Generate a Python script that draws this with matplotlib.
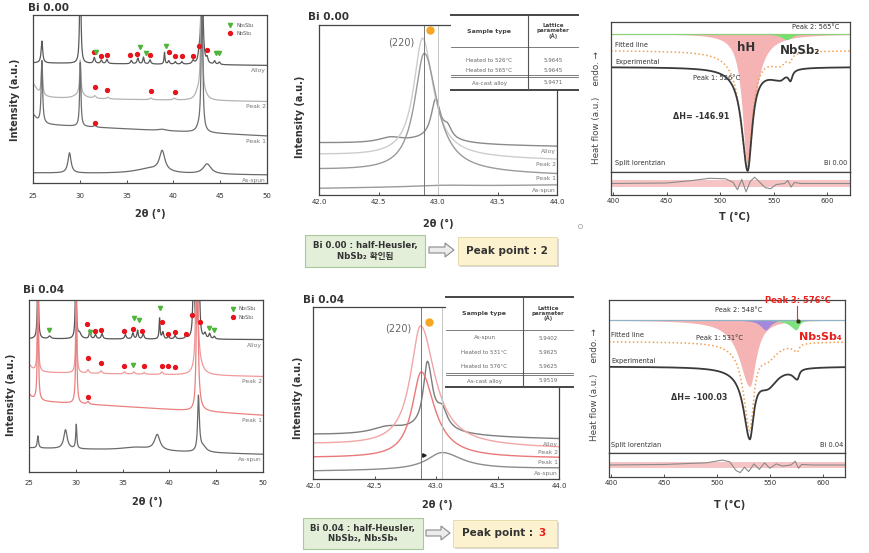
import numpy as np
import matplotlib.pyplot as plt
from matplotlib.patches import Rectangle, FancyBboxPatch, FancyArrow

plt.rcParams['font.family'] = ['DejaVu Sans', 'Noto Sans CJK KR']

W, H = 870, 553

# ---------------- data ----------------
xrd_labels = ['Alloy', 'Peak 2', 'Peak 1', 'As-spun']

# wide XRD, Bi 0.00 : (level at 25 deg, slope per deg), peaks (pos, height, hwhm[, hwhm right])
xrd00_base = [(71.5, -0.06), (50.5, -0.08), (35.0, -0.28), (6.0, -0.05)]
xrd00_peaks = [
    [(25.95, 13, 0.1), (30.05, 70, 0.07), (31.55, 3.5, 0.1), (32.3, 2, 0.1), (32.9, 2.5, 0.1),
     (35.5, 2, 0.1), (36.2, 3.5, 0.1), (36.8, 4, 0.08), (37.5, 2.5, 0.1), (39.05, 7, 0.06),
     (39.5, 2, 0.1), (40.2, 1.5, 0.1), (40.9, 1.5, 0.1), (42.1, 2, 0.12), (42.75, 5, 0.1),
     (43.05, 90, 0.09), (43.6, 3, 0.1), (44.4, 2, 0.1), (44.9, 1.5, 0.1)],
    [(24.9, 9, 0.6), (25.95, 20, 0.08), (30.0, 3, 0.6), (30.05, 20, 0.08), (31.6, 1.5, 0.15),
     (33.0, 1, 0.15), (37.6, 1, 0.15), (40.1, 1, 0.15), (42.6, 4, 0.3), (43.0, 80, 0.09),
     (43.3, 3, 0.4)],
    [(24.9, 6, 0.5), (25.95, 37, 0.09), (30.05, 38, 0.08), (31.6, 1, 0.15), (38.8, 0.8, 0.5),
     (42.7, 2, 0.3), (43.05, 80, 0.1)],
    [(28.9, 12, 0.2), (37.5, 3, 2.0), (38.8, 12, 0.35), (43.6, 6, 0.5)],
]
xrd00_red = {'x': [31.5, 32.3, 32.9, 35.4, 36.1, 37.5, 39.5, 40.2, 40.9, 42.1, 42.75, 43.6,
                   31.6, 32.9, 37.6, 40.2, 31.6],
             'y': [78, 75.5, 76, 76, 76.7, 76, 78, 75.5, 75.5, 75.5, 81.5, 79,
                   57, 55.3, 54.7, 54.3, 35.8]}
xrd00_green = {'x': [31.7, 36.4, 37.1, 39.2, 44.5, 44.9],
               'y': [78, 80.7, 77.5, 81.5, 77.5, 77.5]}

# wide XRD, Bi 0.04
xrd04_base = [(77.5, -0.02), (58.0, -0.1), (41.5, -0.34), (14.0, -0.15)]
xrd04_peaks = [
    [(25.95, 40, 0.07), (27.2, 1.5, 0.15), (30.0, 40, 0.07), (30.4, 3, 0.2), (31.5, 5, 0.08),
     (32.1, 2.5, 0.1), (32.8, 3, 0.1), (35.3, 2.5, 0.1), (36.1, 3.5, 0.1), (36.6, 5, 0.08),
     (37.2, 3, 0.1), (38.95, 12, 0.06), (39.3, 4, 0.1), (39.9, 1.5, 0.1), (40.6, 2, 0.1),
     (41.8, 1.5, 0.12), (42.6, 60, 0.08), (43.15, 60, 0.08), (43.8, 3, 0.12), (44.3, 3, 0.1),
     (44.8, 1.5, 0.1)],
    [(24.9, 5, 0.4), (25.95, 45, 0.07), (30.05, 45, 0.07), (31.3, 2, 0.12), (32.7, 1.5, 0.12),
     (35.2, 1.2, 0.12), (36.2, 1.2, 0.12), (37.3, 1, 0.12), (39.2, 1.5, 0.12),
     (42.9, 80, 0.1, 0.14), (43.1, 5, 0.5)],
    [(24.9, 4, 0.4), (25.95, 60, 0.07), (30.05, 60, 0.07), (31.3, 1.5, 0.12),
     (42.95, 80, 0.1, 0.14)],
    [(25.95, 7, 0.08), (28.9, 11, 0.22), (30.05, 14, 0.07), (36.5, 2, 2.0), (38.7, 9, 0.35),
     (43.1, 32, 0.1, 0.12), (43.6, 3, 0.4)],
]
xrd04_red = {'x': [31.2, 32.1, 32.7, 35.2, 36.1, 37.1, 39.2, 39.9, 40.6, 41.8, 42.4, 43.3,
                   31.25, 32.7, 35.2, 37.3, 39.2, 39.9, 40.6, 31.3],
             'y': [85.8, 81.9, 82.5, 81.9, 83.1, 82.1, 87.4, 80.2, 81.2, 80, 91.3, 87,
                   66, 63.1, 61.7, 61.6, 61.7, 61.6, 61.2, 43.7]}
xrd04_green = {'x': [27.1, 31.5, 36.2, 36.8, 39.0, 44.2, 44.8, 36.1],
               'y': [82.5, 81.6, 89.3, 88.3, 95.1, 83.5, 82.5, 62.1]}

# (220) zoom, Bi 0.00 : level at 42.0, slope per deg
z00_base = [(30.5, -1.0), (23.5, -1.5), (14.7, -1.5), (3.9, 1.0)]
z00_peaks = [
    [(42.6, 3, 0.12), (42.95, 3, 0.25), (42.98, 23, 0.045, 0.05), (43.08, 6, 0.04)],
    [(42.87, 70, 0.09, 0.11)],
    [(42.885, 70, 0.1, 0.13)],
    [(43.05, 0.8, 0.3)],
]
z00_lines = [42.88, 43.0]
z00_table = [('Heated to 526°C', '5.9645'), ('Heated to 565°C', '5.9645'),
             ('As-cast alloy', '5.9471')]

# (220) zoom, Bi 0.04
z04_base = [(25.5, -1.2), (20.1, -1.2), (12.4, -0.2), (4.6, 0.75)]
z04_peaks = [
    [(42.6, 3.5, 0.15), (42.9, 4, 0.3), (42.93, 38, 0.04, 0.05), (43.05, 10, 0.05)],
    [(42.875, 70, 0.1, 0.14)],
    [(42.88, 50, 0.09, 0.13)],
    [(43.05, 10, 0.15, 0.2)],
]
z04_lines = [42.88, 43.05]
z04_table = [('As-spun', '5.9402'), ('Heated to 531°C', '5.9625'),
             ('Heated to 576°C', '5.9625'), ('As-cast alloy', '5.9519')]

# DSC, split lorentzian peaks (T, depth, hwhm left, hwhm right)
dsc00_exp = (70.0, [(525.5, 68, 6.5, 5), (556, 7, 14, 6), (565.5, 6.5, 2.5, 2)])
dsc00_fit = (81.0, [(525, 76, 7.5, 5.8), (556, 8, 14, 6), (565, 4, 2.5, 2)])
dsc00_comp_level = 92.2
dsc00_comp = [(525, 87, 5.5, 8), (562, 4, 6, 5)]
dsc00_res_x = [398, 450, 475, 490, 505, 512, 516, 520, 524, 528, 532, 537, 542, 547, 552,
               560, 563, 566, 569, 575, 621]
dsc00_res_y = [0.0, 0.05, 0.3, 0.5, 0.45, 0.1, -0.6, 0.4, -0.8, 0.2, 0.6, 0.1, -0.4, -0.5,
               -0.1, 0.0, 0.3, -0.35, 0.1, 0.0, 0.0]

dsc04_exp = (56.5, [(531, 43.5, 7, 4.5), (548, 12, 12, 11), (576, 6.5, 5, 2)])
dsc04_fit = (72.8, [(531, 55, 7, 4.5), (548, 10, 12, 11), (576, 5, 5, 2)])
dsc04_comp_level = 87.0
dsc04_comp = [(531, 43.5, 12, 7), (546, 6.5, 6, 5), (575, 6.5, 7, 3)]
dsc04_res_x = [397, 450, 490, 505, 512, 518, 522, 526, 530, 535, 540, 545, 550, 556, 562,
               570, 574, 577, 580, 590, 621]
dsc04_res_y = [0.0, 0.05, 0.2, 0.45, 0.3, -0.5, -0.7, -0.2, -0.6, 0.1, -0.4, 0.2, -0.3, 0.1,
               -0.1, 0.0, 0.35, -0.3, 0.05, 0.0, 0.0]


# ---------------- helpers ----------------
def px_axes(fig, x0, y0, x1, y1):
    return fig.add_axes([x0 / W, 1 - y1 / H, (x1 - x0) / W, (y1 - y0) / H])


def lorentz(x, peaks):
    y = np.zeros_like(x)
    for p in peaks:
        c, h, wl = p[0], p[1], p[2]
        wr = p[3] if len(p) > 3 else wl
        w = np.where(x < c, wl, wr)
        y = y + h * w**2 / ((x - c)**2 + w**2)
    return y


def style_frame(ax, pad):
    for s in ax.spines.values():
        s.set_color('#444444')
        s.set_linewidth(0.9)
    ax.set_yticks([])
    ax.tick_params(axis='x', direction='in', length=2, width=0.6, labelsize=5,
                   pad=pad, colors='#333333')


def xrd_panel(fig, box, xlim, bases, peaks, colors, ticks, ticklabels, pad, lw=0.9):
    ax = px_axes(fig, *box)
    x = np.linspace(xlim[0], xlim[1], 5000)
    for (lvl, slope), pk, c, lab in zip(bases, peaks, colors, xrd_labels):
        y = lvl + slope * (x - xlim[0]) + lorentz(x, pk)
        ax.plot(x, y, color=c, lw=lw)
        ax.text(xlim[1] - 0.004 * (xlim[1] - xlim[0]), y[-1] - 3.2, lab, ha='right',
                va='center', fontsize=4.3, color='#777777')
    ax.set_xlim(xlim)
    ax.set_ylim(0, 100)
    ax.set_xticks(ticks)
    ax.set_xticklabels(ticklabels)
    style_frame(ax, pad)
    return ax


def dsc_panel(fig, box_main, box_res, exp, fit, comp_level, comp, comp_colors,
              res_x, res_y, line_color):
    xlim = (398, 621)
    x = np.linspace(xlim[0], xlim[1], 3000)
    ax = px_axes(fig, *box_main)
    ax.axhline(comp_level, color=line_color, lw=0.9)
    for pk, c in zip(comp, comp_colors):
        y = comp_level - lorentz(x, [pk])
        ax.fill_between(x, y, comp_level, color=c, lw=0)
    ax.plot(x, fit[0] - lorentz(x, fit[1]), color='#f0a050', lw=1.1, ls=(0, (1, 1.6)))
    ax.plot(x, exp[0] - lorentz(x, exp[1]), color='#3a3a3a', lw=1.3)
    ax.set_xlim(xlim)
    ax.set_ylim(0, 100)
    ax.set_xticks([])
    style_frame(ax, 2)

    rx = px_axes(fig, *box_res)
    rx.axhspan(-0.3, 0.3, color='#f6c4c4', lw=0)
    rx.plot(res_x, res_y, color='#8a8a8a', lw=0.8)
    rx.set_xlim(xlim)
    rx.set_ylim(-1.1, 1.1)
    rx.set_xticks([400, 450, 500, 550, 600])
    style_frame(rx, 2.5)
    return ax, rx


def draw_table(ov, x0, y0, x1, y1, xs, yh, rows, row_y, y_double):
    ov.add_patch(Rectangle((x0, y0), x1 - x0, y1 - y0, fc='white', ec='none', zorder=1))
    ov.plot([x0, x1], [y0, y0], color='#444444', lw=1.4, zorder=2)
    ov.plot([x0, x1], [y1, y1], color='#444444', lw=1.4, zorder=2)
    ov.plot([x0, x1], [yh, yh], color='#666666', lw=0.6, zorder=2)
    ov.plot([x0, x1], [y_double, y_double], color='#666666', lw=0.6, zorder=2)
    ov.plot([x0, x1], [y_double + 2, y_double + 2], color='#666666', lw=0.6, zorder=2)
    ov.plot([xs, xs], [y0, y1], color='#555555', lw=0.8, zorder=2)
    ov.text((x0 + xs) / 2, (y0 + yh) / 2, 'Sample type', ha='center', va='center',
            fontsize=4.5, fontweight='bold', color='#444444', zorder=3)
    ov.text((xs + x1) / 2, (y0 + yh) / 2, 'Lattice\nparameter\n(Å)', ha='center',
            va='center', fontsize=4, fontweight='bold', color='#444444', linespacing=1.0,
            zorder=3)
    for (name, val), yy in zip(rows, row_y):
        ov.text((x0 + xs) / 2, yy, name, ha='center', va='center', fontsize=4,
                color='#666666', zorder=3)
        ov.text((xs + x1) / 2, yy, val, ha='center', va='center', fontsize=4,
                color='#666666', zorder=3)


# ---------------- figure ----------------
fig = plt.figure(figsize=(W / 100, H / 100), dpi=100)

wide_ticks = [25, 30, 35, 40, 45, 50]
zoom_ticks = [42.0, 42.5, 43.0, 43.5, 44.0]
zoom_labels = ['42.0', '42.5', '43.0', '43.5', '44.0']

# wide XRD panels
ax1 = xrd_panel(fig, (33, 15, 267, 183), (25, 50), xrd00_base, xrd00_peaks,
                ['#5a5a5a', '#b3b3b3', '#6e6e6e', '#6a6a6a'], wide_ticks, wide_ticks, 7)
ax4 = xrd_panel(fig, (29, 300, 263, 472), (25, 50), xrd04_base, xrd04_peaks,
                ['#555555', '#f09a9a', '#ea8080', '#6a6a6a'], wide_ticks, wide_ticks, 6)
for ax, red, green in [(ax1, xrd00_red, xrd00_green), (ax4, xrd04_red, xrd04_green)]:
    ax.plot(red['x'], red['y'], 'o', color='#e8141c', ms=2.8, mec='#e8141c')
    ax.plot(green['x'], green['y'], 'v', color='#4fb43a', ms=3)
ax1.plot([46.1], [94], 'v', color='#4fb43a', ms=3)
ax1.plot([46.1], [89], 'o', color='#e8141c', ms=2.8)
ax1.text(46.7, 94, 'Nb₅Sb₄', fontsize=3.6, va='center', color='#555555')
ax1.text(46.7, 89, 'NbSb₂', fontsize=3.6, va='center', color='#555555')
ax4.plot([46.8], [95], 'v', color='#4fb43a', ms=3)
ax4.plot([46.8], [90], 'o', color='#e8141c', ms=2.8)
ax4.text(47.4, 95, 'Nb₅Sb₄', fontsize=3.6, va='center', color='#555555')
ax4.text(47.4, 90, 'NbSb₂', fontsize=3.6, va='center', color='#555555')

# (220) zoom panels
ax2 = xrd_panel(fig, (319, 25, 557, 195), (42.0, 44.0), z00_base, z00_peaks,
                ['#8a8a8a', '#cdcdcd', '#9a9a9a', '#9a9a9a'], zoom_ticks, zoom_labels, 3, lw=1.0)
ax5 = xrd_panel(fig, (313, 307, 559, 479), (42.0, 44.0), z04_base, z04_peaks,
                ['#7d7d7d', '#f2a6a6', '#ea7878', '#8c8c8c'], zoom_ticks, zoom_labels, 3, lw=1.0)
for ax, lines, lab_y, dot_xy in [(ax2, z00_lines, 90, (42.93, 97)), (ax5, z04_lines, 87.4, (42.94, 91.3))]:
    ax.axvline(lines[0], color='#777777', lw=0.7)
    ax.axvline(lines[1], color='#c4c4c4', lw=0.7)
    ax.text(42.69, lab_y, '(220)', ha='center', va='center', fontsize=7, color='#666666')
    ax.plot([dot_xy[0]], [dot_xy[1]], 'o', color='#f5a623', ms=5, clip_on=False)
ax5.plot([42.9], [14], marker='>', color='#222222', ms=2.5)

# DSC panels
d1, r1 = dsc_panel(fig, (611, 22, 850, 172), (611, 172, 850, 195), dsc00_exp, dsc00_fit,
                   dsc00_comp_level, dsc00_comp, ['#f5b3b3', '#6fe36a'],
                   dsc00_res_x, dsc00_res_y, '#8fd07a')
d2, r2 = dsc_panel(fig, (609, 300, 845, 453), (609, 453, 845, 477), dsc04_exp, dsc04_fit,
                   dsc04_comp_level, dsc04_comp, ['#f5b3b3', '#a488dc', '#7ee07e'],
                   dsc04_res_x, dsc04_res_y, '#8fb3c9')

tiny = dict(fontsize=4.8, color='#333333')
d1.text(589, 96.7, 'Peak 2: 565°C', ha='center', va='center', **tiny)
d1.text(524, 83, 'hH', ha='center', va='center', fontsize=8.5, fontweight='bold', color='#333333')
d1.text(574, 81, 'NbSb₂', ha='center', va='center', fontsize=8.5, fontweight='bold', color='#333333')
d1.text(402, 84.4, 'Fitted line', va='center', **tiny)
d1.text(402, 73.3, 'Experimental', va='center', **tiny)
d1.text(497, 62.9, 'Peak 1: 526°C', ha='center', va='center', **tiny)
d1.text(482, 36.7, 'ΔH= -146.91', ha='center', va='center', fontsize=5.8,
        fontweight='bold', color='#333333')
d1.text(402, 6, 'Split lorentzian', va='center', **tiny)
d1.text(619, 6, 'Bi 0.00', ha='right', va='center', **tiny)

d2.plot([576, 576], [96, 87], color='#e03030', lw=0.8)
d2.plot([577], [86], 'o', color='#333300', ms=2)
d2.text(577, 99.5, 'Peak 3: 576°C', ha='center', va='center', fontsize=6,
        fontweight='bold', color='#e8201c', clip_on=False)
d2.text(598, 76, 'Nb₅Sb₄', ha='center', va='center', fontsize=8,
        fontweight='bold', color='#e8201c')
d2.text(521, 93.5, 'Peak 2: 548°C', ha='center', va='center', **tiny)
d2.text(502, 75, 'Peak 1: 531°C', ha='center', va='center', **tiny)
d2.text(400, 77, 'Fitted line', va='center', **tiny)
d2.text(400, 60, 'Experimental', va='center', **tiny)
d2.text(483, 36, 'ΔH= -100.03', ha='center', va='center', fontsize=5.8,
        fontweight='bold', color='#333333')
d2.text(400, 5, 'Split lorentzian', va='center', **tiny)
d2.text(619, 5, 'Bi 0.04', ha='right', va='center', **tiny)

# ---------------- overlay in pixel coordinates ----------------
ov = fig.add_axes([0, 0, 1, 1], zorder=10)
ov.set_xlim(0, W)
ov.set_ylim(H, 0)
ov.axis('off')

bold = dict(fontweight='bold', color='#333333')
ov.text(28, 8, 'Bi 0.00', fontsize=7.5, va='center', **bold)
ov.text(308, 17, 'Bi 0.00', fontsize=7.5, va='center', **bold)
ov.text(23, 290, 'Bi 0.04', fontsize=7.5, va='center', **bold)
ov.text(303, 300, 'Bi 0.04', fontsize=7.5, va='center', **bold)

for x, y in [(15, 100), (11, 395), (300, 117), (298, 398)]:
    ov.text(x, y, 'Intensity (a.u.)', rotation=90, ha='center', va='center', fontsize=7, **bold)
for x, y in [(597, 108), (595, 385)]:
    ov.text(x, y, 'Heat flow (a.u.)    endo. →', rotation=90, ha='center', va='center',
            fontsize=6.3, color='#444444')

for x, y, s in [(150, 214, '2θ (°)'), (438, 224, '2θ (°)'), (147, 502, '2θ (°)'),
                (437, 505, '2θ (°)'), (735, 217, 'T (°C)'), (730, 505, 'T (°C)')]:
    ov.text(x, y, s, ha='center', va='center', fontsize=7, **bold)

draw_table(ov, 451, 15, 578, 90, 528, 47, z00_table, [61, 70, 83], 75)
draw_table(ov, 446, 297, 573, 387, 523, 330, z04_table, [338, 352, 366, 381], 372.5)

# summary boxes
for x0, y0, x1, y1, txt in [(305, 235, 425, 267, 'Bi 0.00 : half-Heusler,\nNbSb₂ 확인됨'),
                            (303, 518, 423, 549, 'Bi 0.04 : half-Heusler,\nNbSb₂, Nb₅Sb₄')]:
    ov.add_patch(FancyBboxPatch((x0, y0), x1 - x0, y1 - y0, boxstyle='square,pad=0',
                                fc='#e3efd9', ec='#a9c99a', lw=0.8))
    ov.text((x0 + x1) / 2, (y0 + y1) / 2, txt, ha='center', va='center', fontsize=6.2,
            linespacing=1.25, **bold)

for x0, y0, x1, y1 in [(458, 237, 557, 265), (453, 520, 557, 547)]:
    ov.add_patch(Rectangle((x0 + 2, y0 + 2), x1 - x0, y1 - y0, fc='#d8d8d8', ec='none'))
    ov.add_patch(Rectangle((x0, y0), x1 - x0, y1 - y0, fc='#fdf2cf', ec='#e4d6a6', lw=0.6))
ov.text(507, 251, 'Peak point : 2', ha='center', va='center', fontsize=7.5, **bold)
ov.text(533, 533.5, 'Peak point :', ha='right', va='center', fontsize=7.5, **bold)
ov.text(538, 533.5, '3', ha='left', va='center', fontsize=7.5, fontweight='bold', color='#e8201c')

for x, y, L in [(429, 250, 25), (426, 533, 24)]:
    ov.add_patch(FancyArrow(x, y, L, 0, width=6, head_width=14, head_length=9,
                            length_includes_head=True, fc='#ececec', ec='#8a8a8a', lw=0.8))

ov.plot([580], [226], 'o', mfc='none', mec='#aaaaaa', ms=3, mew=0.6)

fig.savefig('out.png', dpi=100)
